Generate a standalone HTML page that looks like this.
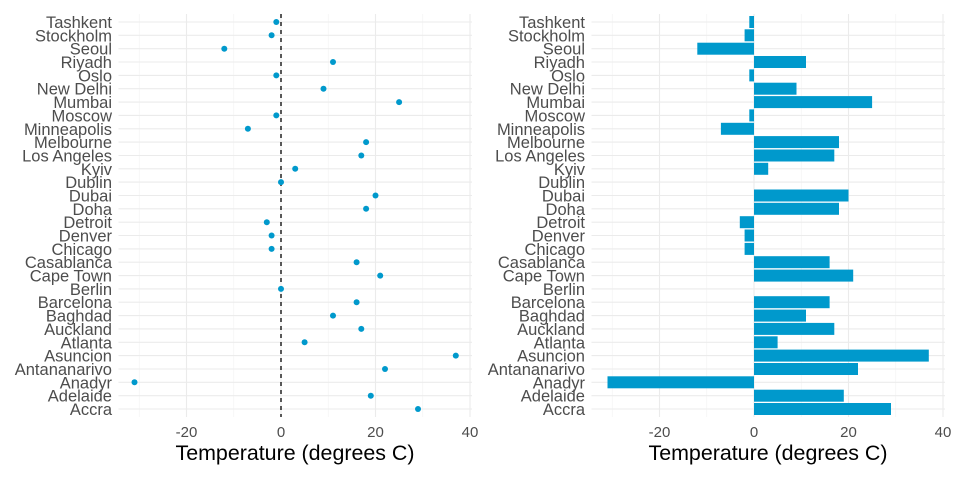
<!DOCTYPE html>
<html><head><meta charset="utf-8"><style>body{margin:0;background:#fff}svg{display:block}text{font-family:"Liberation Sans",sans-serif}</style></head><body>
<svg width="960" height="480" xmlns="http://www.w3.org/2000/svg">
<defs>
<g id="grid">
<g stroke="#f3f3f3" stroke-width="0.6"><line x1="-141.75" y1="14" x2="-141.75" y2="417"/><line x1="-47.25" y1="14" x2="-47.25" y2="417"/><line x1="47.25" y1="14" x2="47.25" y2="417"/><line x1="141.75" y1="14" x2="141.75" y2="417"/></g>
<g stroke="#ebebeb" stroke-width="1.1"><line x1="-94.5" y1="14" x2="-94.5" y2="417"/><line x1="0" y1="14" x2="0" y2="417"/><line x1="94.5" y1="14" x2="94.5" y2="417"/><line x1="189" y1="14" x2="189" y2="417"/></g>
<g stroke="#ebebeb" stroke-width="1.1">
<line x1="-162.5" x2="191" y1="22" y2="22"/><line x1="-162.5" x2="191" y1="35.3" y2="35.3"/><line x1="-162.5" x2="191" y1="48.7" y2="48.7"/><line x1="-162.5" x2="191" y1="62" y2="62"/><line x1="-162.5" x2="191" y1="75.4" y2="75.4"/><line x1="-162.5" x2="191" y1="88.7" y2="88.7"/><line x1="-162.5" x2="191" y1="102.1" y2="102.1"/><line x1="-162.5" x2="191" y1="115.4" y2="115.4"/><line x1="-162.5" x2="191" y1="128.8" y2="128.8"/><line x1="-162.5" x2="191" y1="142.1" y2="142.1"/><line x1="-162.5" x2="191" y1="155.5" y2="155.5"/><line x1="-162.5" x2="191" y1="168.8" y2="168.8"/><line x1="-162.5" x2="191" y1="182.1" y2="182.1"/><line x1="-162.5" x2="191" y1="195.5" y2="195.5"/><line x1="-162.5" x2="191" y1="208.8" y2="208.8"/><line x1="-162.5" x2="191" y1="222.2" y2="222.2"/><line x1="-162.5" x2="191" y1="235.5" y2="235.5"/><line x1="-162.5" x2="191" y1="248.9" y2="248.9"/><line x1="-162.5" x2="191" y1="262.2" y2="262.2"/><line x1="-162.5" x2="191" y1="275.6" y2="275.6"/><line x1="-162.5" x2="191" y1="288.9" y2="288.9"/><line x1="-162.5" x2="191" y1="302.2" y2="302.2"/><line x1="-162.5" x2="191" y1="315.6" y2="315.6"/><line x1="-162.5" x2="191" y1="328.9" y2="328.9"/><line x1="-162.5" x2="191" y1="342.3" y2="342.3"/><line x1="-162.5" x2="191" y1="355.6" y2="355.6"/><line x1="-162.5" x2="191" y1="369" y2="369"/><line x1="-162.5" x2="191" y1="382.3" y2="382.3"/><line x1="-162.5" x2="191" y1="395.7" y2="395.7"/><line x1="-162.5" x2="191" y1="409" y2="409"/>
</g>
<g fill="#4d4d4d" font-size="15" text-anchor="middle"><text x="-94.5" y="437">-20</text><text x="0" y="437">0</text><text x="94.5" y="437">20</text><text x="189" y="437">40</text></g>
<text x="14" y="460" font-size="21.4" text-anchor="middle" fill="#000">Temperature (degrees C)</text>
<g fill="#4d4d4d" font-size="16.5" text-anchor="end">
<text x="-169" y="28">Tashkent</text><text x="-169" y="41.3">Stockholm</text><text x="-169" y="54.7">Seoul</text><text x="-169" y="68">Riyadh</text><text x="-169" y="81.4">Oslo</text><text x="-169" y="94.7">New Delhi</text><text x="-169" y="108.1">Mumbai</text><text x="-169" y="121.4">Moscow</text><text x="-169" y="134.8">Minneapolis</text><text x="-169" y="148.1">Melbourne</text><text x="-169" y="161.5">Los Angeles</text><text x="-169" y="174.8">Kyiv</text><text x="-169" y="188.1">Dublin</text><text x="-169" y="201.5">Dubai</text><text x="-169" y="214.8">Doha</text><text x="-169" y="228.2">Detroit</text><text x="-169" y="241.5">Denver</text><text x="-169" y="254.9">Chicago</text><text x="-169" y="268.2">Casablanca</text><text x="-169" y="281.6">Cape Town</text><text x="-169" y="294.9">Berlin</text><text x="-169" y="308.2">Barcelona</text><text x="-169" y="321.6">Baghdad</text><text x="-169" y="334.9">Auckland</text><text x="-169" y="348.3">Atlanta</text><text x="-169" y="361.6">Asuncion</text><text x="-169" y="375">Antananarivo</text><text x="-169" y="388.3">Anadyr</text><text x="-169" y="401.7">Adelaide</text><text x="-169" y="415">Accra</text>
</g>
</g>
</defs>
<use href="#grid" x="281"/>
<use href="#grid" x="754"/>
<line x1="281" y1="14" x2="281" y2="417" stroke="#000" stroke-width="1.3" stroke-dasharray="4,4"/>
<g fill="#0099cc">
<circle cx="276.3" cy="22" r="3"/><circle cx="271.6" cy="35.3" r="3"/><circle cx="224.3" cy="48.7" r="3"/><circle cx="333" cy="62" r="3"/><circle cx="276.3" cy="75.4" r="3"/><circle cx="323.5" cy="88.7" r="3"/><circle cx="399.1" cy="102.1" r="3"/><circle cx="276.3" cy="115.4" r="3"/><circle cx="247.9" cy="128.8" r="3"/><circle cx="366.1" cy="142.1" r="3"/><circle cx="361.3" cy="155.5" r="3"/><circle cx="295.2" cy="168.8" r="3"/><circle cx="281" cy="182.1" r="3"/><circle cx="375.5" cy="195.5" r="3"/><circle cx="366.1" cy="208.8" r="3"/><circle cx="266.8" cy="222.2" r="3"/><circle cx="271.6" cy="235.5" r="3"/><circle cx="271.6" cy="248.9" r="3"/><circle cx="356.6" cy="262.2" r="3"/><circle cx="380.2" cy="275.6" r="3"/><circle cx="281" cy="288.9" r="3"/><circle cx="356.6" cy="302.2" r="3"/><circle cx="333" cy="315.6" r="3"/><circle cx="361.3" cy="328.9" r="3"/><circle cx="304.6" cy="342.3" r="3"/><circle cx="455.8" cy="355.6" r="3"/><circle cx="385" cy="369" r="3"/><circle cx="134.5" cy="382.3" r="3"/><circle cx="370.8" cy="395.7" r="3"/><circle cx="418" cy="409" r="3"/>
<rect x="749.3" y="16" width="4.7" height="12"/><rect x="744.6" y="29.3" width="9.4" height="12"/><rect x="697.3" y="42.7" width="56.7" height="12"/><rect x="754" y="56" width="52" height="12"/><rect x="749.3" y="69.4" width="4.7" height="12"/><rect x="754" y="82.7" width="42.5" height="12"/><rect x="754" y="96.1" width="118.1" height="12"/><rect x="749.3" y="109.4" width="4.7" height="12"/><rect x="720.9" y="122.8" width="33.1" height="12"/><rect x="754" y="136.1" width="85" height="12"/><rect x="754" y="149.5" width="80.3" height="12"/><rect x="754" y="162.8" width="14.2" height="12"/><rect x="754" y="189.5" width="94.5" height="12"/><rect x="754" y="202.8" width="85" height="12"/><rect x="739.8" y="216.2" width="14.2" height="12"/><rect x="744.6" y="229.5" width="9.4" height="12"/><rect x="744.6" y="242.9" width="9.4" height="12"/><rect x="754" y="256.2" width="75.6" height="12"/><rect x="754" y="269.6" width="99.2" height="12"/><rect x="754" y="296.2" width="75.6" height="12"/><rect x="754" y="309.6" width="52" height="12"/><rect x="754" y="322.9" width="80.3" height="12"/><rect x="754" y="336.3" width="23.6" height="12"/><rect x="754" y="349.6" width="174.8" height="12"/><rect x="754" y="363" width="104" height="12"/><rect x="607.5" y="376.3" width="146.5" height="12"/><rect x="754" y="389.7" width="89.8" height="12"/><rect x="754" y="403" width="137" height="12"/>
</g>
</svg>
</body></html>
